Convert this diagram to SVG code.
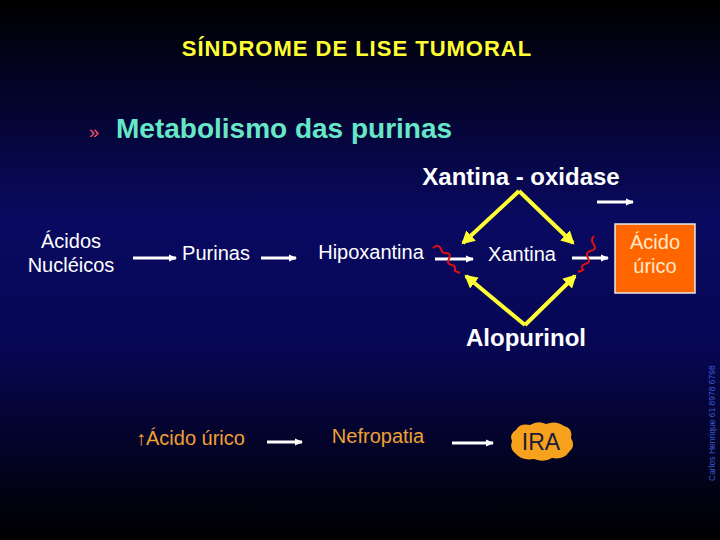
<svg xmlns="http://www.w3.org/2000/svg" width="720" height="540" viewBox="0 0 720 540">
<defs>
<linearGradient id="bg" x1="0" y1="0" x2="0" y2="1">
<stop offset="0" stop-color="#000000"/>
<stop offset="0.4" stop-color="#090960"/>
<stop offset="0.62" stop-color="#070758"/>
<stop offset="1" stop-color="#000000"/>
</linearGradient>
<marker id="wa" markerWidth="8" markerHeight="8" refX="7" refY="4" orient="auto" markerUnits="userSpaceOnUse">
<path d="M0,0.5 L8,4 L0,7.5 Z" fill="#ffffff"/>
</marker>
<marker id="ya" markerWidth="14" markerHeight="14" refX="11" refY="7" orient="auto" markerUnits="userSpaceOnUse">
<path d="M0,0 L13,7 L0,14 Z" fill="#ffff33"/>
</marker>
<style>
text{font-family:"Liberation Sans",Arial,sans-serif}
.w{fill:#ffffff;font-size:20px}
.wb{fill:#ffffff;font-size:24px;font-weight:bold}
.o{fill:#f0a033;font-size:20px}
.arr{stroke:#ffffff;stroke-width:3;fill:none;marker-end:url(#wa)}
.yl{stroke:#ffff33;stroke-width:4;fill:none;marker-end:url(#ya)}
.sq{stroke:#dd1111;stroke-width:2;fill:none}
</style>
</defs>
<rect width="720" height="540" fill="url(#bg)"/>
<g id="title"><text x="357" y="56" text-anchor="middle" fill="#ffff33" font-size="22" font-weight="bold" letter-spacing="1">SÍNDROME DE LISE TUMORAL</text></g>
<g id="subtitle"><text x="89" y="138" fill="#ff5070" font-size="18">»</text><text x="116" y="138" fill="#66e8c8" font-size="28" font-weight="bold">Metabolismo das purinas</text></g>
<g id="xo"><text x="521" y="185" text-anchor="middle" class="wb">Xantina - oxidase</text></g>
<g id="acidos"><text x="71" y="248" text-anchor="middle" class="w">Ácidos</text><text x="71" y="272" text-anchor="middle" class="w">Nucléicos</text></g>
<g id="purinas"><text x="216" y="260" text-anchor="middle" class="w">Purinas</text></g>
<g id="hipo"><text x="371" y="259" text-anchor="middle" class="w">Hipoxantina</text></g>
<g id="xantina"><text x="522" y="261" text-anchor="middle" class="w">Xantina</text></g>
<g id="acido"><rect x="615" y="224" width="80" height="69" fill="#ff6600" stroke="#e8e8e8" stroke-width="1.5"/><text x="655" y="249" text-anchor="middle" fill="#ffe8c8" font-size="20">Ácido</text><text x="655" y="273" text-anchor="middle" fill="#ffe8c8" font-size="20">úrico</text></g>
<g id="alopurinol"><text x="526" y="346" text-anchor="middle" class="wb">Alopurinol</text></g>
<g id="acidoup"><text x="136" y="445" class="o">↑Ácido úrico</text></g>
<g id="nefro"><text x="378" y="443" text-anchor="middle" class="o">Nefropatia</text></g>
<g id="ira"><path d="M516,430 Q520,423 530,425 Q538,420 546,424 Q556,420 564,426 Q573,428 571,438 Q576,446 569,452 Q564,460 552,458 Q544,463 534,459 Q522,461 516,454 Q509,449 512,441 Q509,434 516,430 Z" fill="#f7a21c"/><text x="541" y="450" text-anchor="middle" fill="#1a1a3a" font-size="23">IRA</text></g>
<g id="credit"><text transform="translate(715,481) rotate(-90)" fill="#3a5ad0" font-size="8.5" font-family="'DejaVu Sans Mono',monospace">Carlos Henrique   61 8978 6798</text></g>
<g id="connectors">
<line x1="597" y1="202" x2="633" y2="202" class="arr"/>
<line x1="133" y1="258" x2="176" y2="258" class="arr"/>
<line x1="261" y1="258" x2="296" y2="258" class="arr"/>
<line x1="435" y1="259" x2="473" y2="259" class="arr"/>
<line x1="572" y1="258" x2="608" y2="258" class="arr"/>
<line x1="267" y1="442" x2="302" y2="442" class="arr"/>
<line x1="452" y1="443" x2="493" y2="443" class="arr"/>
<polyline points="519,191 463,243" class="yl"/>
<polyline points="519,191 573,243" class="yl"/>
<polyline points="525,325 466,276" class="yl"/>
<polyline points="525,325 575,276" class="yl"/>
<path d="M433,248 Q438,243 441,249 Q442,254 447,253 Q451,253 449,259 Q446,264 452,265 Q456,266 455,271 L460,273" class="sq"/>
<path d="M594,236 Q590,240 594,245 Q597,250 590,251 Q585,253 588,258 Q591,263 585,264 Q580,266 583,270 L578,272" class="sq"/>
</g>
</svg>
